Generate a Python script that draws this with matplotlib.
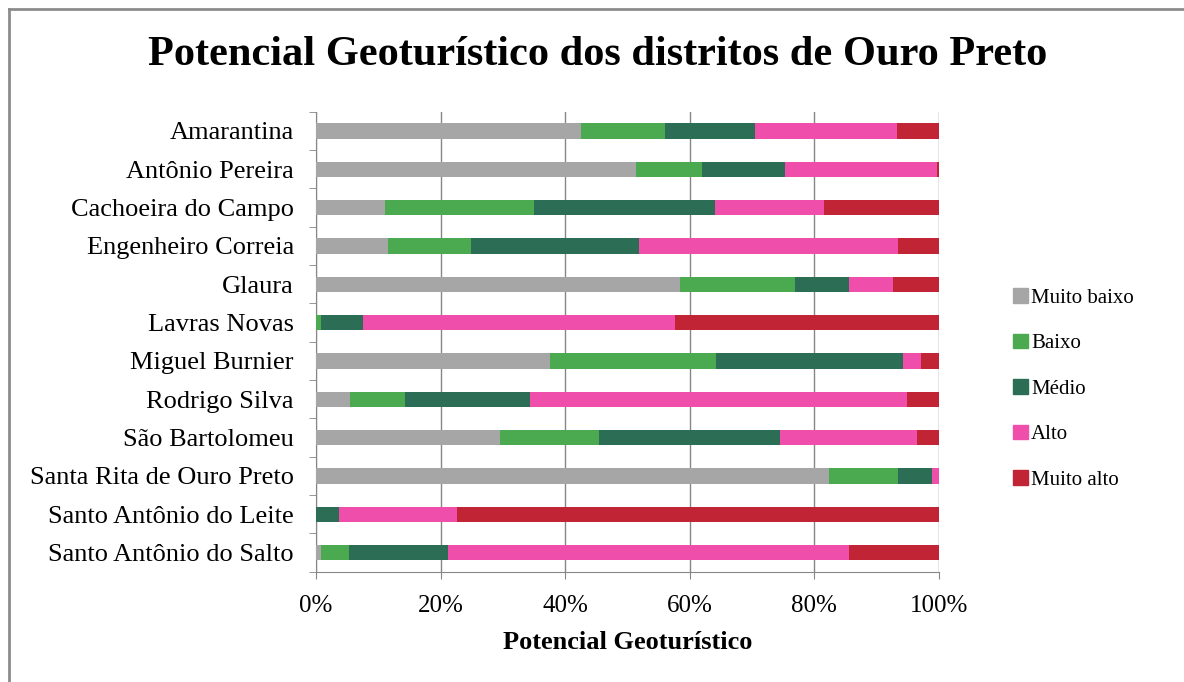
import numpy as np
import matplotlib.pyplot as plt
from matplotlib.lines import Line2D

# districts (top to bottom)
distritos = ['Amarantina', 'Antônio Pereira', 'Cachoeira do Campo',
             'Engenheiro Correia', 'Glaura', 'Lavras Novas', 'Miguel Burnier',
             'Rodrigo Silva', 'São Bartolomeu', 'Santa Rita de Ouro Preto',
             'Santo Antônio do Leite', 'Santo Antônio do Salto']

classes = ['Muito baixo', 'Baixo', 'Médio', 'Alto', 'Muito alto']

# percentages
muito_baixo = [42.6, 51.4, 11.1, 11.5, 58.4, 0.0, 37.5, 5.5, 29.6, 82.3, 0.0, 0.8]
baixo       = [13.4, 10.5, 23.9, 13.4, 18.5, 0.8, 26.7, 8.8, 15.8, 11.1, 0.0, 4.5]
medio       = [14.4, 13.4, 29.0, 27.0, 8.7, 6.8, 30.1, 20.0, 29.0, 5.5, 3.7, 15.9]
alto        = [22.8, 24.3, 17.5, 41.5, 7.0, 50.0, 2.8, 60.5, 22.1, 1.1, 19.0, 64.4]
muito_alto  = [6.8, 0.4, 18.5, 6.6, 7.4, 42.4, 2.9, 5.2, 3.5, 0.0, 77.3, 14.4]

cores = ['#A6A6A6', '#4BAA4F', '#2C6E55', '#EF4FAA', '#C12434']

plt.rcParams['font.family'] = ['Liberation Serif', 'DejaVu Serif']

fig = plt.figure(figsize=(11.84, 6.82), dpi=100)
ax = fig.add_axes([316/1184, 1-571.7/682, 623/1184, 460/682])

series = [muito_baixo, baixo, medio, alto, muito_alto]
y = np.arange(len(distritos))
left = np.zeros(len(distritos))
for nome, vals, cor in zip(classes, series, cores):
    vals = np.array(vals)
    ax.barh(y, vals, left=left, height=0.4, color=cor, label=nome, zorder=3)
    left = left + vals

ax.set_xlim(0, 100)
ax.set_ylim(len(distritos) - 0.5, -0.5)
ax.set_xticks(np.arange(0, 101, 20))
ax.set_xticklabels([f'{v}%' for v in range(0, 101, 20)], fontsize=18)
ax.set_yticks(y)
ax.set_yticklabels(distritos, fontsize=19)
ax.set_yticks(np.arange(-0.5, len(distritos), 1), minor=True)
ax.tick_params(axis='y', which='major', length=0, pad=16)
ax.tick_params(axis='y', which='minor', length=5, color='#868686')
ax.tick_params(axis='x', which='major', length=5, color='#868686', pad=12)
ax.grid(axis='x', color='#868686', linewidth=1, zorder=0)

for s in ['top', 'right']:
    ax.spines[s].set_visible(False)
for s in ['left', 'bottom']:
    ax.spines[s].set_color('#868686')

ax.set_xlabel('Potencial Geoturístico', fontsize=19, fontweight='bold', labelpad=10)

fig.text(598/1184, 1-55/682, 'Potencial Geoturístico dos distritos de Ouro Preto',
         ha='center', va='center', fontsize=30.5, fontweight='bold')

handles = [plt.Rectangle((0, 0), 1, 1, color=c) for c in cores]
fig.legend(handles, classes, loc='center left', bbox_to_anchor=(1005/1184, 1-389/682),
           frameon=False, fontsize=15, handlelength=0.7, handleheight=0.7,
           handletextpad=0.15, labelspacing=1.25, borderaxespad=0)

# chart border (only left and top visible in the crop)
fig.add_artist(Line2D([9/1184, 9/1184], [0, 1-9/682], transform=fig.transFigure,
                      color='#8C8C8C', linewidth=2))
fig.add_artist(Line2D([9/1184, 1], [1-9/682, 1-9/682], transform=fig.transFigure,
                      color='#8C8C8C', linewidth=2))

fig.savefig('out.png', dpi=100)
